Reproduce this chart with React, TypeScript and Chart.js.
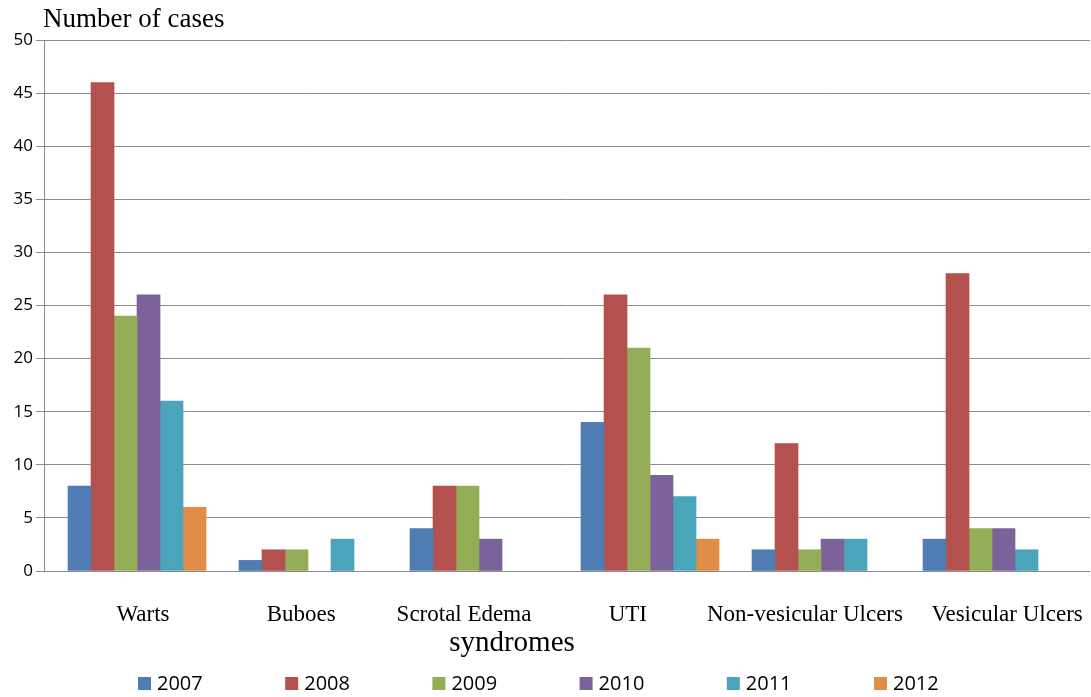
import React, { useEffect, useRef } from "react";
import { Chart, registerables } from "chart.js";

Chart.register(...registerables);

const CATEGORIES = ["Warts", "Buboes", "Scrotal Edema", "UTI", "Non-vesicular Ulcers", "Vesicular Ulcers"];
const YEARS = ["2007", "2008", "2009", "2010", "2011", "2012"];
const V2007 = [8, 1, 4, 14, 2, 3];
const V2008 = [46, 2, 8, 26, 12, 28];
const V2009 = [24, 2, 8, 21, 2, 4];
const V2010 = [26, 0, 3, 9, 3, 4];
const V2011 = [16, 3, 0, 7, 3, 2];
const V2012 = [6, 0, 0, 3, 0, 0];
const SERIES = [V2007, V2008, V2009, V2010, V2011, V2012];
const COLORS = ["#4F7DB3", "#B4504E", "#94AE58", "#7B629B", "#4BA5BA", "#E08E47"];
const Y_TICKS = [0, 5, 10, 15, 20, 25, 30, 35, 40, 45, 50];
const Y_TITLE = "Number of cases";
const X_TITLE = "syndromes";

// small per-label horizontal nudges (in category units) as in the original layout
const LABEL_NUDGE = [0.035, -0.04, -0.088, -0.13, -0.094, 0.088];

const textPlugin = {
  id: "texts",
  afterDraw(chart: any) {
    const ctx = chart.ctx;
    const ca = chart.chartArea;
    ctx.save();
    ctx.fillStyle = "#000";
    ctx.font = "27px 'Liberation Serif'";
    ctx.textAlign = "left";
    ctx.textBaseline = "alphabetic";
    ctx.fillText(Y_TITLE, ca.left - 1, 27);
    ctx.font = "29px 'Liberation Serif'";
    ctx.textAlign = "center";
    ctx.textBaseline = "middle";
    ctx.fillText(X_TITLE, 512, 643);
    // legend
    ctx.font = "20px 'Open Sans'";
    ctx.textAlign = "left";
    ctx.textBaseline = "middle";
    chart.data.datasets.forEach((ds: any, i: number) => {
      const x = 138 + i * 147.2;
      ctx.fillStyle = ds.backgroundColor;
      ctx.fillRect(x, 677, 13, 13);
      ctx.fillStyle = "#000";
      ctx.fillText(ds.label, x + 19, 684);
    });
    ctx.restore();
  },
};

export default function App() {
  const ref = useRef<HTMLCanvasElement>(null);
  useEffect(() => {
    if (!ref.current) return;
    const chart = new Chart(ref.current, {
      type: "bar",
      data: {
        datasets: YEARS.map((y, si) => ({
          label: y,
          data: SERIES[si].map((v, i) => ({ x: i, y: v === 0 ? null : v })),
          backgroundColor: COLORS[si],
          borderWidth: 0,
          barThickness: 23,
        })),
      },
      options: {
        responsive: false,
        animation: false,
        devicePixelRatio: 1,
        layout: { padding: { left: 0, right: 1, top: 40, bottom: 0 } },
        plugins: { legend: { display: false }, tooltip: { enabled: false }, title: { display: false } },
        scales: {
          x: {
            type: "linear",
            offset: false,
            min: -0.544,
            max: 5.573,
            grid: { display: false, drawTicks: false },
            border: { display: false },
            afterBuildTicks: (scale: any) => {
              scale.ticks = CATEGORIES.map((_, i) => ({ value: i + LABEL_NUDGE[i] }));
            },
            afterFit: (scale: any) => {
              scale.height = 126;
              scale.paddingLeft = 0;
              scale.paddingRight = 0;
            },
            ticks: {
              autoSkip: false,
              maxRotation: 0,
              minRotation: 0,
              padding: 30,
              color: "#000",
              font: { family: "'Liberation Serif'", size: 23 },
              callback: (v: any) => CATEGORIES[Math.round(v as number)],
            },
          },
          y: {
            min: 0,
            max: 50,
            afterBuildTicks: (scale: any) => {
              scale.ticks = Y_TICKS.map((v) => ({ value: v }));
            },
            afterFit: (scale: any) => {
              scale.width = 44;
            },
            grid: { color: "#8c8c8c", lineWidth: 1, tickLength: 8, drawTicks: true },
            border: { display: true, color: "#8c8c8c", width: 1 },
            ticks: {
              padding: 3,
              color: "#000",
              font: { family: "'Open Sans'", size: 17 },
            },
          },
        },
      },
      plugins: [textPlugin],
    } as any);
    return () => chart.destroy();
  }, []);
  return (
    <div style={{ position: "fixed", left: 0, top: 0, width: 1091, height: 697, background: "#fff" }}>
      <canvas ref={ref} width={1091} height={697} />
    </div>
  );
}
